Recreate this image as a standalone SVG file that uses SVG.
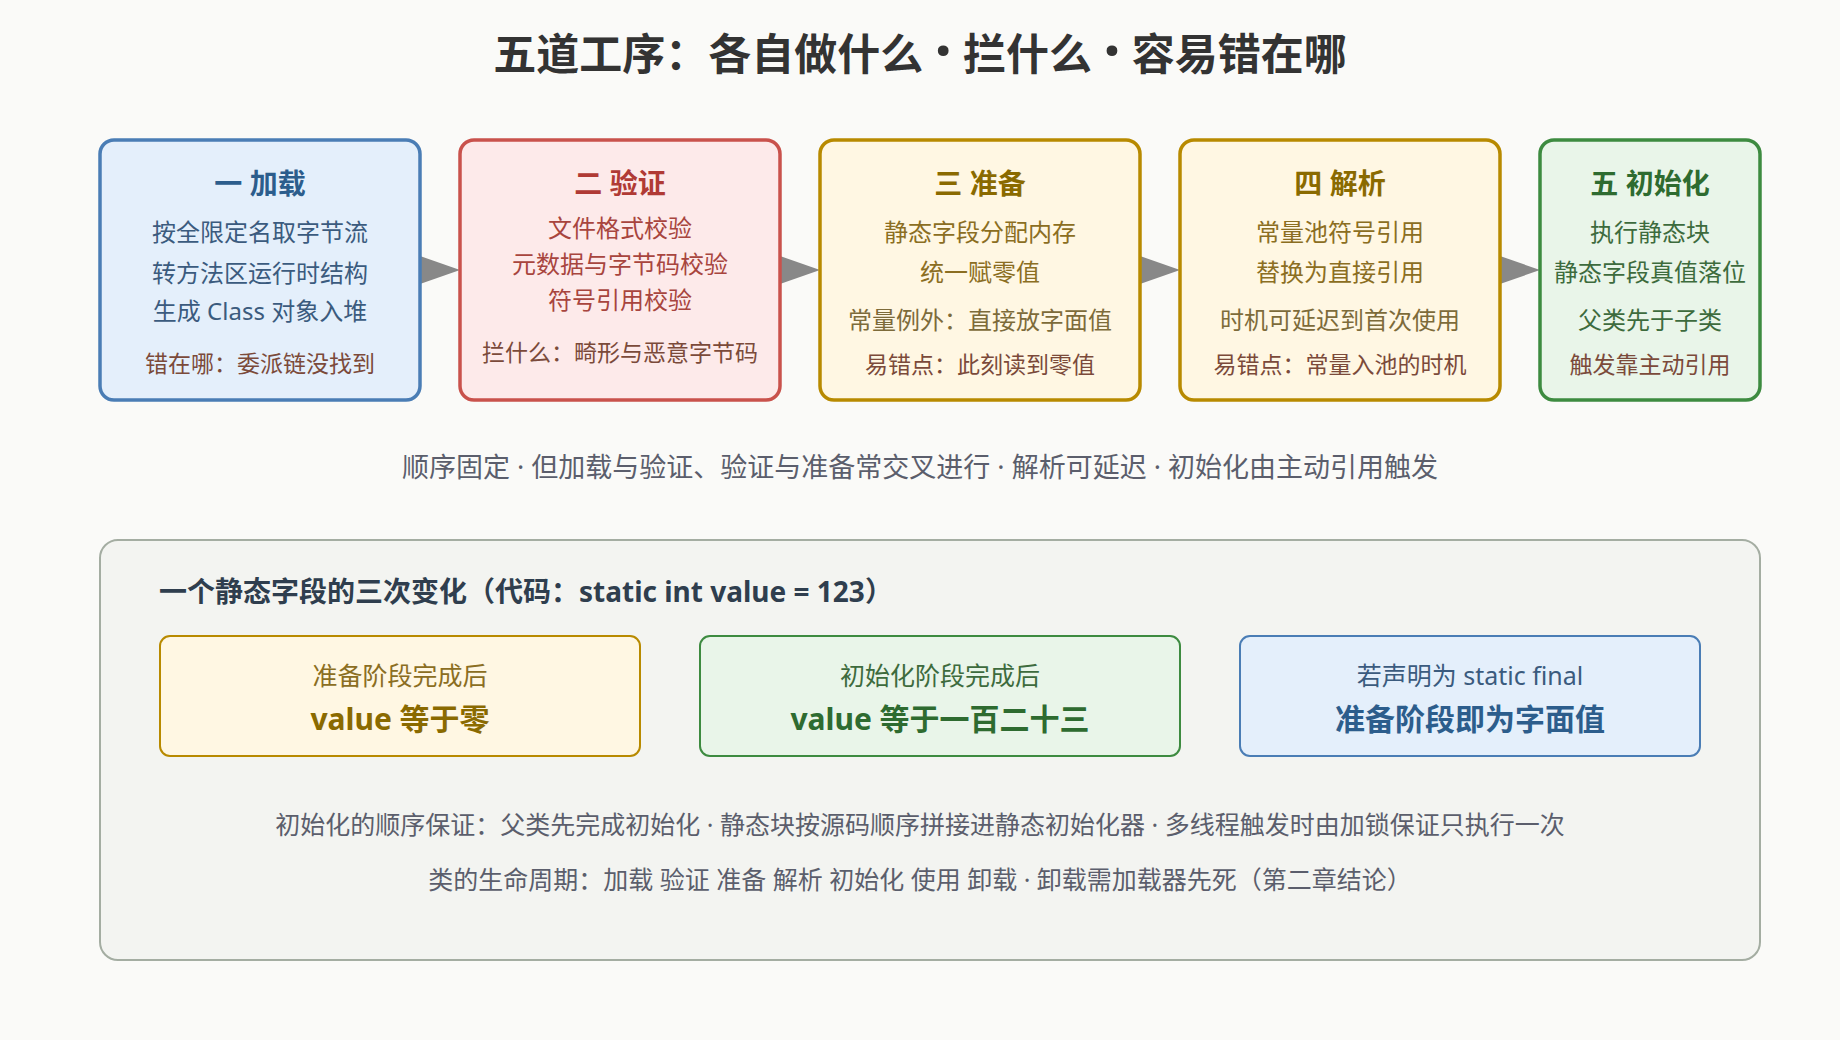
<svg xmlns="http://www.w3.org/2000/svg" width="1840" height="1040" viewBox="0 0 1840 1040">
<style>
text{font-family:"Noto Sans","Noto Sans CJK SC",sans-serif;text-anchor:middle}
.title{font-size:43px;font-weight:700;fill:#333333}
.dot{font-size:62px}
.bt{font-size:28px;font-weight:700}
.ln{font-size:24px}
.bl{font-size:23px;fill:#7b4a3a}
.box{stroke-width:3.5}
.b1{fill:#e4effb;stroke:#4a7db5}
.b2{fill:#fdeaea;stroke:#c9524c}
.b3{fill:#fff7e3;stroke:#b88a00}
.b5{fill:#e9f5e9;stroke:#3d8b40}
.c1{fill:#3b5b7e}.t1{fill:#2c5d8c}
.c2{fill:#a8453e}.t2{fill:#b03a35}
.c3{fill:#8b6e22}.t3{fill:#8a6a00}.c3b{fill:#7d6b3a}
.c5{fill:#3d6b3d}.t5{fill:#2e6b30}
.arrow{fill:#888888}
.sub{font-size:27px;fill:#5b5e6c}
.panel{fill:#f3f4f1;stroke:#a4ada2;stroke-width:2}
.ptitle{font-size:28px;font-weight:700;fill:#2f3e4e;text-anchor:start}
.ib{stroke-width:2}
.sm{font-size:25px}
.big{font-size:30px;font-weight:700}
.note{font-size:25px;fill:#5b5e6c}
</style>
<rect x="0" y="0" width="1840" height="1040" fill="#fafaf8"/>
<text class="title" x="920" y="70">五道工序：各自做什么 <tspan class="dot" dy="3">·</tspan><tspan dy="-3"> 拦什么 </tspan><tspan class="dot" dy="3">·</tspan><tspan dy="-3"> 容易错在哪</tspan></text>

<g id="connectors">
<path class="arrow" d="M420,256 L460,270 L420,284 Z"/>
<path class="arrow" d="M780,256 L820,270 L780,284 Z"/>
<path class="arrow" d="M1140,256 L1180,270 L1140,284 Z"/>
<path class="arrow" d="M1500,256 L1540,270 L1500,284 Z"/>
</g>

<g id="n1">
<rect class="box b1" x="100" y="140" width="320" height="260" rx="14"/>
<text class="bt t1" x="260" y="194">一 加载</text>
<text class="ln c1" x="260" y="241">按全限定名取字节流</text>
<text class="ln c1" x="260" y="282">转方法区运行时结构</text>
<text class="ln c1" x="260" y="320">生成 Class 对象入堆</text>
<text class="bl" x="260" y="372">错在哪：委派链没找到</text>
</g>

<g id="n2">
<rect class="box b2" x="460" y="140" width="320" height="260" rx="14"/>
<text class="bt t2" x="620" y="194">二 验证</text>
<text class="ln c2" x="620" y="237">文件格式校验</text>
<text class="ln c2" x="620" y="273">元数据与字节码校验</text>
<text class="ln c2" x="620" y="309">符号引用校验</text>
<text class="bl" x="620" y="361">拦什么：畸形与恶意字节码</text>
</g>

<g id="n3">
<rect class="box b3" x="820" y="140" width="320" height="260" rx="14"/>
<text class="bt t3" x="980" y="194">三 准备</text>
<text class="ln c3" x="980" y="241">静态字段分配内存</text>
<text class="ln c3" x="980" y="281">统一赋零值</text>
<text class="ln c3b" x="980" y="329">常量例外：直接放字面值</text>
<text class="bl" x="980" y="373">易错点：此刻读到零值</text>
</g>

<g id="n4">
<rect class="box b3" x="1180" y="140" width="320" height="260" rx="14"/>
<text class="bt t3" x="1340" y="194">四 解析</text>
<text class="ln c3" x="1340" y="241">常量池符号引用</text>
<text class="ln c3" x="1340" y="281">替换为直接引用</text>
<text class="ln c3b" x="1340" y="329">时机可延迟到首次使用</text>
<text class="bl" x="1340" y="373">易错点：常量入池的时机</text>
</g>

<g id="n5">
<rect class="box b5" x="1540" y="140" width="220" height="260" rx="14"/>
<text class="bt t5" x="1650" y="194">五 初始化</text>
<text class="ln c5" x="1650" y="241">执行静态块</text>
<text class="ln c5" x="1650" y="281">静态字段真值落位</text>
<text class="ln c5" x="1650" y="329">父类先于子类</text>
<text class="bl" x="1650" y="373">触发靠主动引用</text>
</g>

<text class="sub" x="920" y="477">顺序固定 · 但加载与验证、验证与准备常交叉进行 · 解析可延迟 · 初始化由主动引用触发</text>

<g id="panel">
<rect class="panel" x="100" y="540" width="1660" height="420" rx="18"/>
<text class="ptitle" x="159" y="602">一个静态字段的三次变化（代码：static int value = 123）</text>
</g>

<g id="v1">
<rect class="ib b3" x="160" y="636" width="480" height="120" rx="10"/>
<text class="sm c3" x="400" y="685">准备阶段完成后</text>
<text class="big t3" x="400" y="730">value 等于零</text>
</g>
<g id="v2">
<rect class="ib b5" x="700" y="636" width="480" height="120" rx="10"/>
<text class="sm c5" x="940" y="685">初始化阶段完成后</text>
<text class="big t5" x="940" y="730">value 等于一百二十三</text>
</g>
<g id="v3">
<rect class="ib b1" x="1240" y="636" width="460" height="120" rx="10"/>
<text class="sm c1" x="1470" y="685">若声明为 static final</text>
<text class="big t1" x="1470" y="730">准备阶段即为字面值</text>
</g>

<text class="note" x="920" y="834">初始化的顺序保证：父类先完成初始化 · 静态块按源码顺序拼接进静态初始化器 · 多线程触发时由加锁保证只执行一次</text>
<text class="note" x="920" y="889">类的生命周期：加载 验证 准备 解析 初始化 使用 卸载 · 卸载需加载器先死（第二章结论）</text>
</svg>
